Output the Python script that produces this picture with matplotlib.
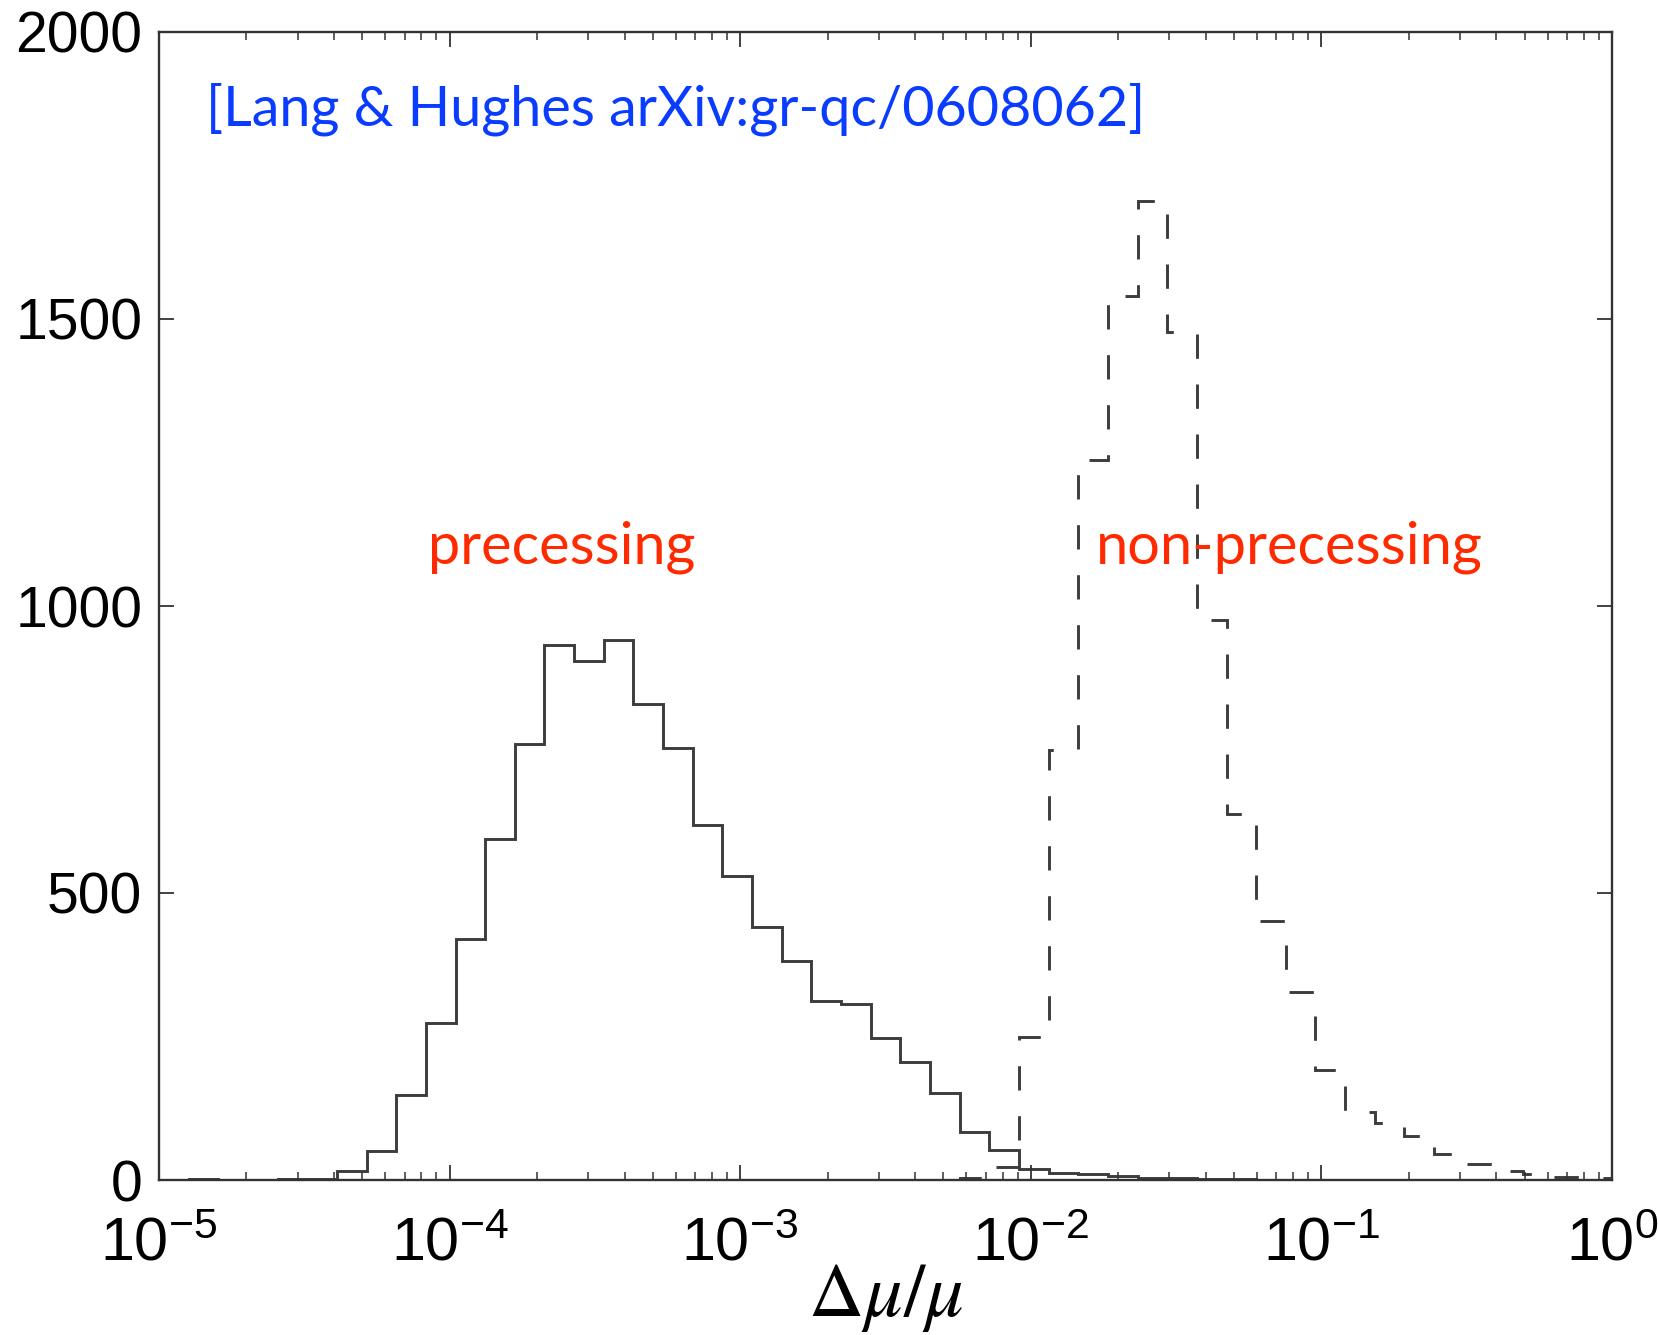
import numpy as np
import matplotlib
matplotlib.use("Agg")
import matplotlib.pyplot as plt

# ---- data -------------------------------------------------------------
# 49 logarithmic bins from 1e-5 to 1 (bin edges)
bin_edges_log_start = -5.0
bin_edges_log_stop = 0.0
n_bins = 49

precessing_counts = [0, 1, 0, 0, 1, 2, 15, 50, 148, 274,
                     420, 594, 759, 932, 905, 941, 830, 752, 618, 530,
                     440, 382, 312, 307, 247, 205, 151, 83, 53, 20,
                     13, 10, 7, 4, 3, 2, 1, 0, 0, 0,
                     0, 0, 0, 0, 0, 0, 0, 0, 0]

nonprecessing_counts = [0, 0, 0, 0, 0, 0, 0, 0, 0, 0,
                        0, 0, 0, 0, 0, 0, 0, 0, 0, 0,
                        0, 0, 0, 0, 0, 0, 0, 3, 23, 250,
                        750, 1255, 1540, 1705, 1477, 975, 638, 451, 328, 192,
                        119, 100, 76, 45, 28, 16, 10, 6, 4]

y_ticks = [0, 500, 1000, 1500, 2000]
x_ticks = [1e-5, 1e-4, 1e-3, 1e-2, 1e-1, 1e0]
x_tick_labels = [r"$10^{-5}$", r"$10^{-4}$", r"$10^{-3}$", r"$10^{-2}$",
                 r"$10^{-1}$", r"$10^{0}$"]

citation = "[Lang & Hughes arXiv:gr-qc/0608062]"
label_prec = "precessing"
label_nonprec = "non-precessing"

# ---- style ------------------------------------------------------------
plt.rcParams["font.family"] = ["Liberation Sans", "DejaVu Sans"]
plt.rcParams["mathtext.fontset"] = "custom"
plt.rcParams["mathtext.rm"] = "Liberation Sans"
plt.rcParams["mathtext.it"] = "Liberation Sans:italic"
plt.rcParams["mathtext.bf"] = "Liberation Sans:bold"

W, H = 1659, 1335
DPI = 100
fig = plt.figure(figsize=(W / DPI, H / DPI), dpi=DPI)
ax = fig.add_axes([159 / W, 1 - 1180 / H, (1612 - 159) / W, (1180 - 32) / H])

edges = np.logspace(bin_edges_log_start, bin_edges_log_stop, n_bins + 1)
line_col = "#3c3c3c"
lw = 2.1
ax.stairs(precessing_counts, edges, color=line_col, lw=lw, baseline=None)
ax.stairs(nonprecessing_counts, edges, color=line_col, lw=lw, baseline=None,
          linestyle=(0, (17.5 / lw, 18.5 / lw)))

ax.set_xscale("log")
ax.set_xlim(1e-5, 1)
ax.set_ylim(0, 2000)
ax.set_yticks(y_ticks)
ax.set_yticklabels([str(v) for v in y_ticks])
ax.set_xticks(x_ticks)
ax.set_xticklabels(x_tick_labels)
ax.xaxis.set_minor_locator(matplotlib.ticker.LogLocator(base=10, subs=np.arange(2, 10), numticks=100))
ax.xaxis.set_minor_formatter(matplotlib.ticker.NullFormatter())

for sp in ax.spines.values():
    sp.set_linewidth(1.7)
    sp.set_color("#333333")
ax.tick_params(which="both", direction="in", top=True, right=True, color="#333333")
ax.tick_params(which="major", length=11, width=1.3)
ax.tick_params(which="minor", length=6, width=1.1)
ax.tick_params(axis="y", pad=12, labelsize=41)
ax.tick_params(axis="x", pad=26, labelsize=44)

ax.set_xlabel(r"$\Delta\mu/\mu$", fontsize=55, math_fontfamily="stix", labelpad=-8)

# ---- annotations ------------------------------------------------------
renderer = fig.canvas.get_renderer()

def fitted_text(x_px, base_px, s, width_px, color, size0):
    t = fig.text(x_px / W, 1 - base_px / H, s, color=color, fontsize=size0,
                 family=["Lato", "DejaVu Sans"], va="baseline", ha="left")
    bb = t.get_window_extent(renderer=renderer)
    t.set_fontsize(size0 * width_px / bb.width)
    return t

fitted_text(206, 125, citation, 940, "#0a3cff", 40)
fitted_text(428, 564, label_prec, 267, "#ff2a00", 40)
fitted_text(1096, 564, label_nonprec, 386, "#ff2a00", 40)

fig.savefig("out.png", dpi=DPI)
